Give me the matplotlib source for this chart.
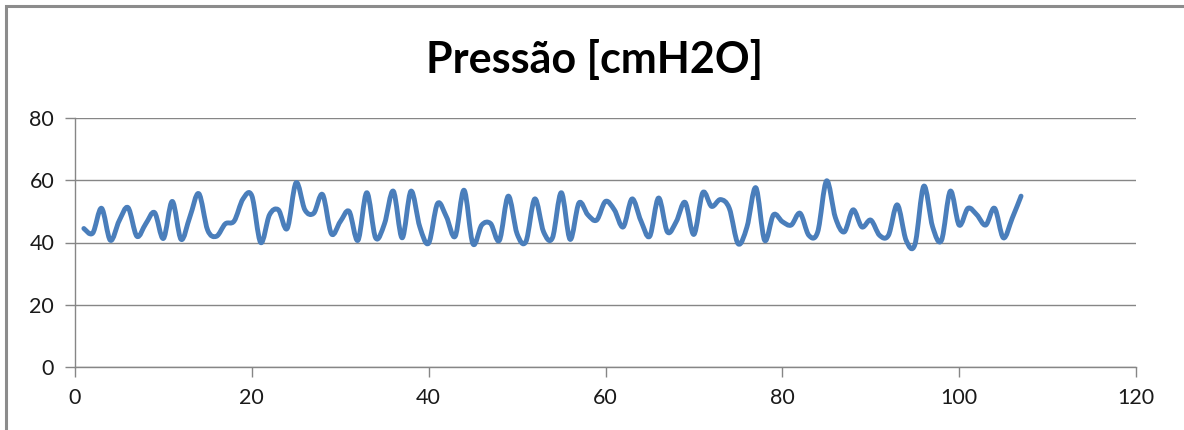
import numpy as np
from matplotlib import pyplot as plt
from matplotlib.path import Path
from matplotlib.patches import PathPatch, Rectangle

plt.rcParams['font.family'] = ['Lato', 'DejaVu Sans']

# amostras (indice 1..107) e pressao
amostra = np.arange(1, 108)
pressao = [44.5, 43.0, 51.0, 40.7, 47.0, 51.2, 42.0, 46.0, 49.6, 41.3,
           53.2, 41.0, 48.3, 55.7, 44.0, 42.0, 46.0, 46.9, 54.0, 55.0,
           40.0, 48.9, 50.5, 44.5, 59.2, 50.5, 49.4, 55.4, 42.8, 46.7,
           50.0, 40.7, 56.0, 41.5, 46.0, 56.5, 41.5, 56.5, 45.0, 39.8,
           52.5, 48.3, 42.0, 56.8, 39.6, 45.6, 46.1, 40.7, 54.9, 42.8,
           40.3, 54.0, 43.4, 41.5, 56.0, 41.0, 52.7, 48.9, 47.2, 53.2,
           50.5, 45.0, 54.0, 47.0, 42.0, 54.3, 43.4, 46.7, 52.9, 42.6,
           56.0, 51.6, 53.8, 51.0, 39.6, 45.0, 57.6, 40.7, 48.9, 46.7,
           45.6, 49.4, 42.3, 43.4, 59.8, 48.0, 43.4, 50.5, 45.0, 47.2,
           42.3, 42.3, 52.1, 40.7, 39.4, 58.1, 45.0, 40.7, 56.5, 45.6,
           51.0, 48.9, 45.6, 51.0, 41.5, 47.8, 54.9]

titulo = 'Pressão [cmH2O]'
x_ticks = [0, 20, 40, 60, 80, 100, 120]
y_ticks = [0, 20, 40, 60, 80]


def smooth_path(x, y):
    # curva suavizada estilo Excel (bezier cubica pelos pontos)
    pts = np.column_stack([x, y]).astype(float)
    n = len(pts)
    verts = [pts[0]]
    codes = [Path.MOVETO]
    for i in range(n - 1):
        p0 = pts[i - 1] if i > 0 else pts[i]
        p1 = pts[i]
        p2 = pts[i + 1]
        p3 = pts[i + 2] if i + 2 < n else pts[i + 1]
        c1 = p1 + (p2 - p0) / 6.0
        c2 = p2 - (p3 - p1) / 6.0
        verts += [c1, c2, p2]
        codes += [Path.CURVE4] * 3
    return Path(verts, codes)


fig = plt.figure(figsize=(11.84, 4.30), dpi=100)
ax = fig.add_axes([75/1184, 63/430, (1136-75)/1184, (367-118)/430])

# moldura externa do grafico (corta na direita e embaixo)
fig.patches.append(Rectangle((6/1184, -0.1), 1.5, 1 - 6/430 + 0.1,
                             transform=fig.transFigure, fill=False,
                             edgecolor='#8c8c8c', lw=2.2, zorder=0))

ax.add_patch(PathPatch(smooth_path(amostra, pressao), fill=False,
                       edgecolor='#4a7ebb', lw=3.5, capstyle='round',
                       joinstyle='round', zorder=3))

ax.set_xlim(0, 120)
ax.set_ylim(0, 80)
ax.set_xticks(x_ticks)
ax.set_yticks(y_ticks)
ax.yaxis.grid(True, color='#868686', lw=1.0)
ax.set_axisbelow(True)
for s in ['top', 'right']:
    ax.spines[s].set_visible(False)
for s in ['left', 'bottom']:
    ax.spines[s].set_color('#868686')
    ax.spines[s].set_linewidth(1.0)
ax.tick_params(axis='both', direction='out', length=7, width=1.0,
               color='#868686', labelsize=15.5, labelcolor='#1a1a1a')
ax.tick_params(axis='x', pad=8)
ax.tick_params(axis='y', pad=8)

fig.text(595/1184, 1 - 60/430, titulo, ha='center', va='center',
         fontsize=31, fontweight='bold', color='black')

fig.savefig('out.png', dpi=100)
